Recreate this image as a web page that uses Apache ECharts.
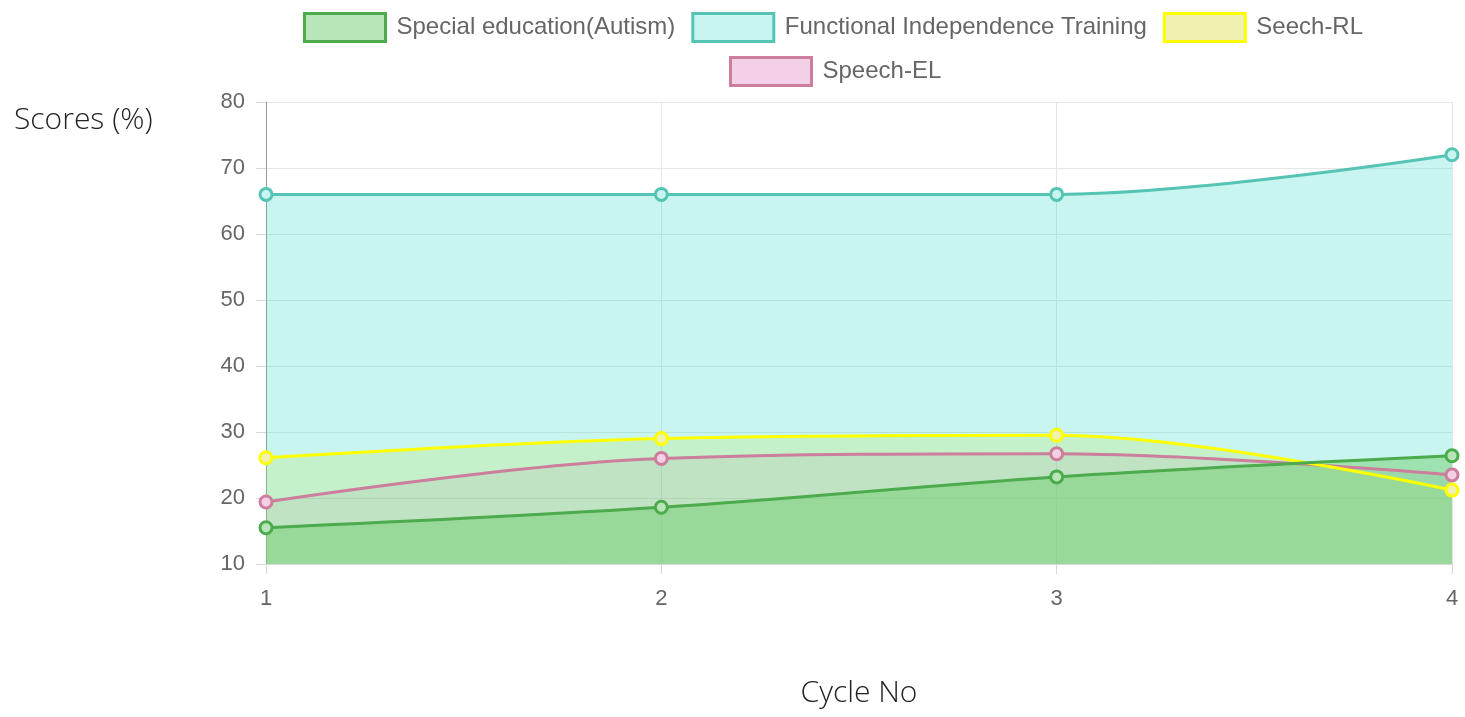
<!DOCTYPE html>
<html>
<head>
<meta charset="utf-8">
<script src="https://cdn.jsdelivr.net/npm/echarts@6/dist/echarts.min.js"></script>
<style>
  html, body { margin: 0; padding: 0; background: #fff; }
  #chart { width: 1465px; height: 717px; }
</style>
</head>
<body>
<div id="chart"></div>
<script>
  // cycles on the x axis
  const cycles = ['1', '2', '3', '4']
  const seriesNames = ['Special education(Autism)', 'Functional Independence Training', 'Seech-RL', 'Speech-EL']
  // scores per series
  const specialEducation = [15.5, 18.6, 23.2, 26.4]
  const functionalIndependence = [66, 66, 66, 72]
  const seechRL = [26.1, 29, 29.5, 21.2]
  const speechEL = [19.4, 26, 26.7, 23.5]

  const styles = [
    { line: '#4cab4c', fill: 'rgba(114,207,112,0.5)', legendFill: '#b8e6b8' },
    { line: '#56c4b4', fill: 'rgba(40,215,195,0.25)', legendFill: '#c9f5f0' },
    { line: '#ffff00', fill: 'rgba(220,220,0,0.2)', legendFill: '#f0f0b0' },
    { line: '#cc7e9c', fill: 'rgba(215,100,172,0.15)', legendFill: '#f3d0e6' }
  ]
  const values = [specialEducation, functionalIndependence, seechRL, speechEL]

  const chart = echarts.init(document.getElementById('chart'))

  function legendItem(i) {
    return {
      name: seriesNames[i],
      itemStyle: { color: styles[i].legendFill, borderColor: styles[i].line, borderWidth: 3 }
    }
  }

  const legendBase = {
    orient: 'horizontal',
    icon: 'rect',
    padding: 0,
    itemWidth: 81,
    itemHeight: 28,
    itemGap: 16,
    selectedMode: false,
    textStyle: { fontFamily: 'Liberation Sans', fontSize: 24, color: '#666', padding: [0, 0, 0, 6] }
  }

  // chart.js draws the first dataset on top, so build series in reverse
  let series = []
  for (let i = values.length - 1; i >= 0; i--) {
    series.push({
      name: seriesNames[i],
      type: 'line',
      data: values[i],
      smooth: 0.35,
      symbol: 'circle',
      symbolSize: 12,
      lineStyle: { color: styles[i].line, width: 3 },
      itemStyle: { color: styles[i].legendFill, borderColor: styles[i].line, borderWidth: 3 },
      areaStyle: { color: styles[i].fill, opacity: 1, origin: 'start' }
    })
  }

  chart.setOption({
    animation: false,
    legend: [
      Object.assign({}, legendBase, { left: 303, top: 12, data: [0, 1, 2].map(legendItem) }),
      Object.assign({}, legendBase, { left: 729, top: 56, data: [3].map(legendItem) })
    ],
    grid: { left: 266, right: 13, top: 102, bottom: 153 },
    xAxis: {
      type: 'category',
      data: cycles,
      boundaryGap: false,
      name: 'Cycle No',
      nameLocation: 'middle',
      nameGap: 114,
      nameTextStyle: { fontFamily: 'Open Sans', fontWeight: 300, fontSize: 30, color: '#222' },
      axisLine: { lineStyle: { color: '#d8d8d8', width: 1 } },
      axisTick: { show: true, alignWithLabel: true, length: 10, lineStyle: { color: '#d8d8d8' } },
      axisLabel: { fontFamily: 'Liberation Sans', fontSize: 22, color: '#666', margin: 24 },
      splitLine: { show: true, lineStyle: { color: '#e6e6e6' } }
    },
    yAxis: {
      type: 'value',
      min: 10,
      max: 80,
      interval: 10,
      axisLine: { show: true, lineStyle: { color: '#999', width: 1 } },
      axisTick: { show: true, length: 10, lineStyle: { color: '#d8d8d8' } },
      axisLabel: { fontFamily: 'Liberation Sans', fontSize: 22, color: '#666', margin: 21 },
      splitLine: { show: true, lineStyle: { color: '#e6e6e6' } }
    },
    graphic: [{
      type: 'text',
      left: 14,
      top: 105,
      style: { text: 'Scores (%)', font: '300 30px "Open Sans"', fill: '#222' }
    }],
    series: series
  })
</script>
</body>
</html>
